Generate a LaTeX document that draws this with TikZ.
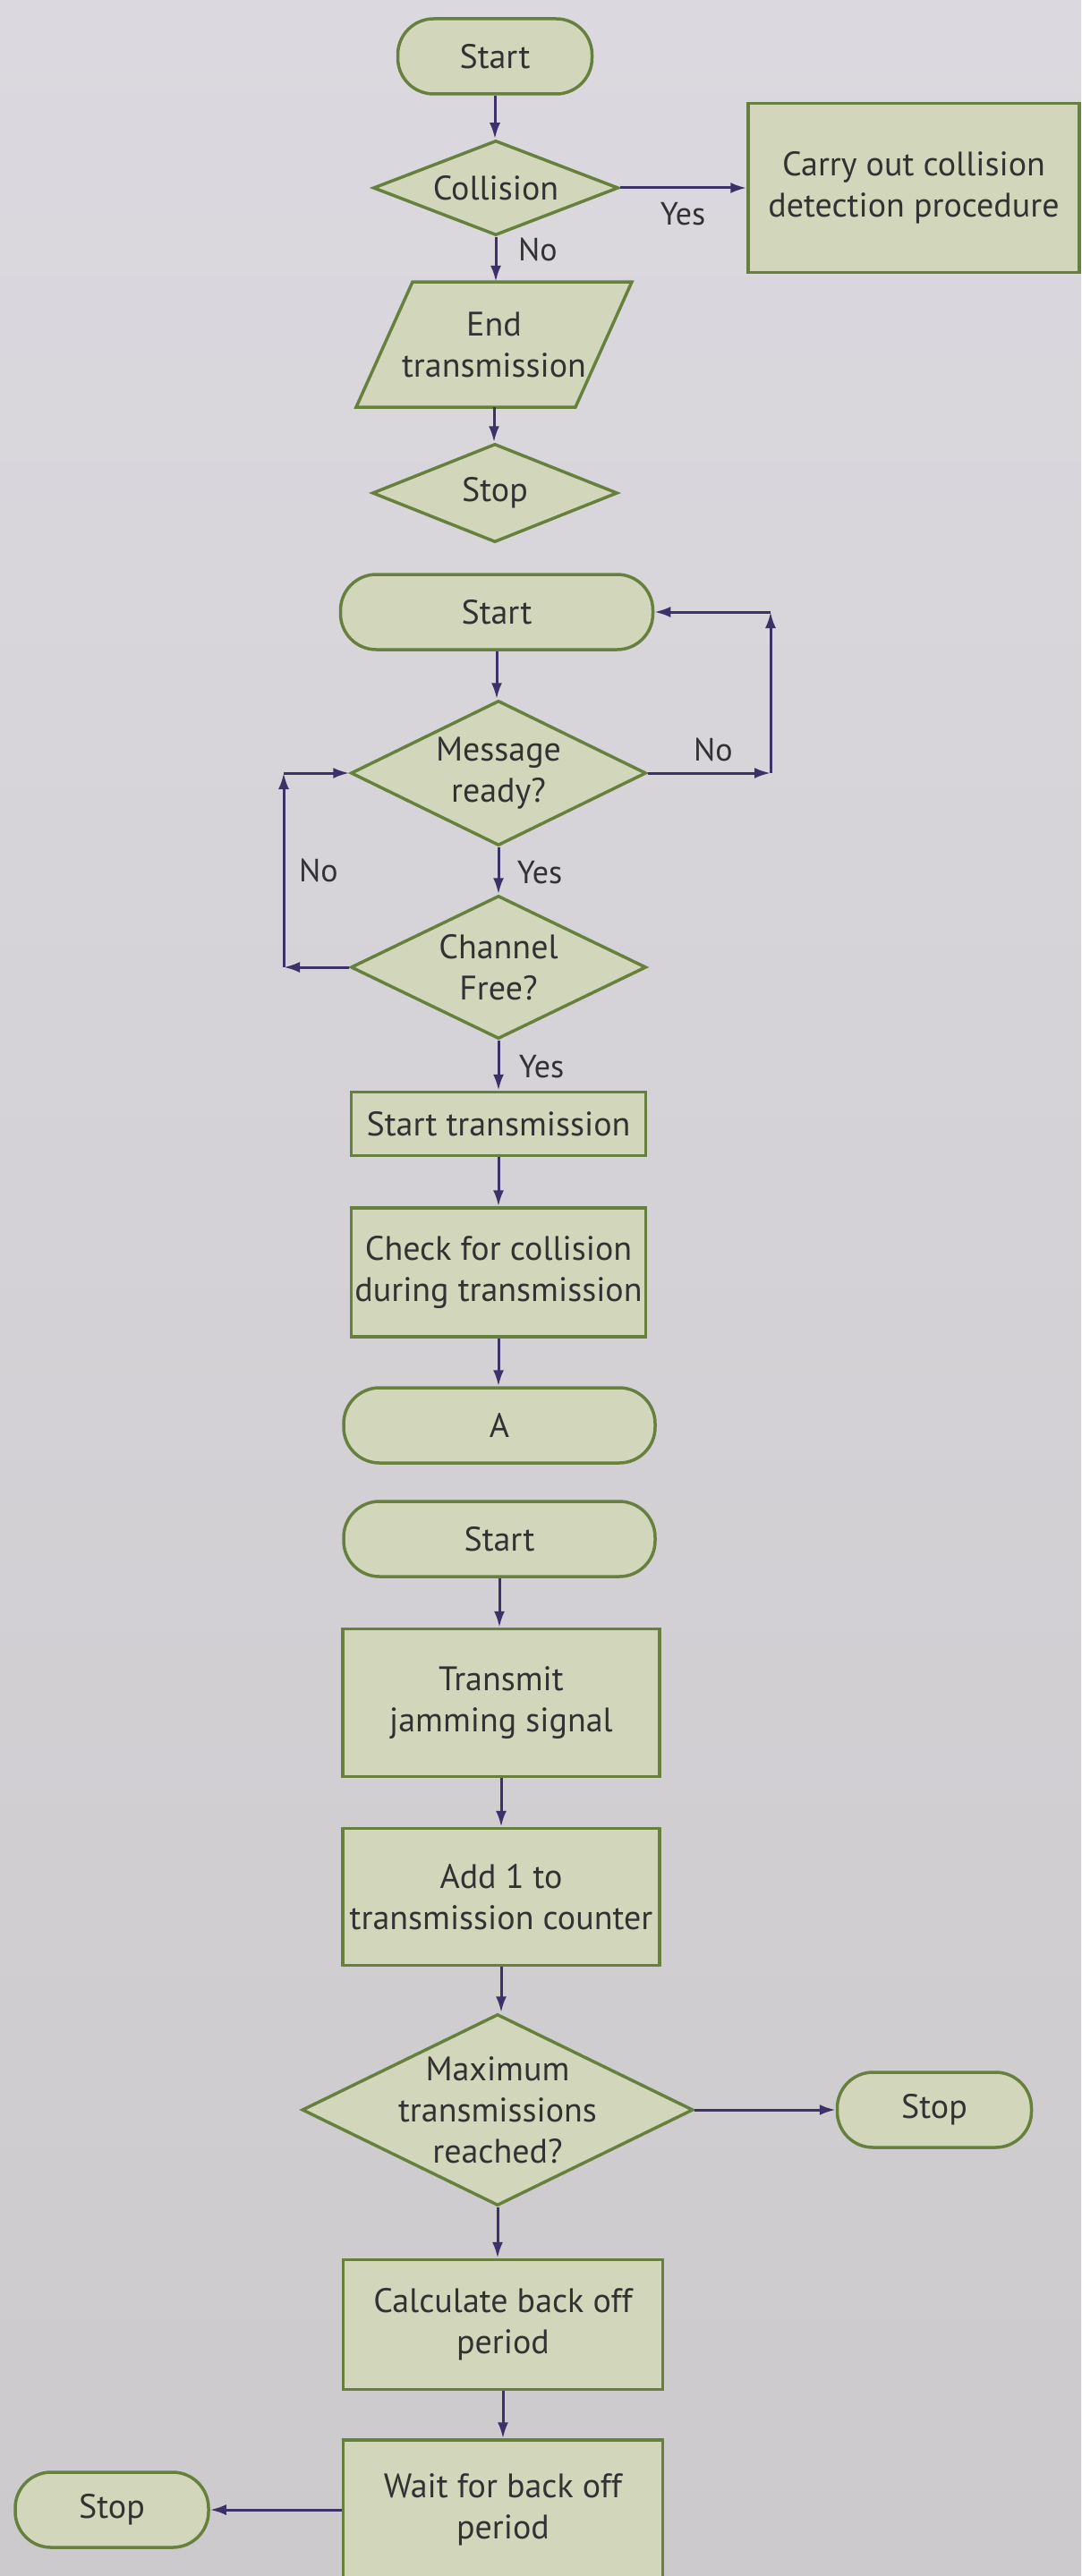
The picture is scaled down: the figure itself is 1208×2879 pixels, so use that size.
\documentclass[tikz,border=0pt]{standalone}
\usepackage{fontspec}
\setmainfont{PT Sans}
\usetikzlibrary{shapes.geometric,arrows.meta,calc}
\definecolor{paper}{RGB}{219,217,223}
\definecolor{paperlow}{RGB}{205,202,205}
\definecolor{boxfill}{RGB}{210,215,188}
\definecolor{boxline}{RGB}{104,128,62}
\definecolor{flow}{RGB}{58,50,104}
\definecolor{ink}{RGB}{50,50,50}

\begin{document}
\begin{tikzpicture}[x=1pt,y=-1pt,
  font=\fontsize{38}{46}\selectfont, text=ink,
  shapebase/.style={draw=boxline, line width=3.5pt, fill=boxfill, inner sep=0pt, align=center},
  procbox/.style={shapebase, rectangle},
  term/.style={shapebase, rectangle, rounded corners=40pt, minimum height=84pt},
  dia/.style={shapebase, diamond},
  flowline/.style={draw=flow, line width=3pt, -{Latex[length=18pt,width=12pt]}},
  lbl/.style={inner sep=0pt, font=\fontsize{36}{42}\selectfont},
  word/.style={inner sep=0pt, align=center}
]
% page
\useasboundingbox (0,0) rectangle (1208,2879);
\clip (0,0) rectangle (1208,2879);
\shade[top color=paper, bottom color=paperlow] (0,0) rectangle (1208,2879);

% ---------- first chart ----------
\node[term, minimum width=217pt] (s1) at (553,63) {Start};
\node[dia, minimum width=274pt, minimum height=106pt] (col) at (554,210) {};
\node[word] (colt) at (col) {Collision};
\node[procbox, minimum width=370pt, minimum height=189pt] (carry) at (1021,210) {Carry out collision\\detection procedure};

\coordinate (endc) at (552,385);
\draw[shapebase] ($(endc)+(-91,-70)$) -- ($(endc)+(154,-70)$) -- ($(endc)+(91,70)$) -- ($(endc)+(-154,70)$) -- cycle;
\node[word, minimum width=245pt, minimum height=140pt] (endtx) at (endc) {End\\transmission};

\node[dia, minimum width=274pt, minimum height=110pt] (stop1) at (553,551) {};
\node[word] (stop1t) at (stop1) {Stop};

\draw[flowline] (s1.south) -- (s1.south |- col.north);
\draw[flowline] (col.east) -- (carry.west);
\draw[flowline] (col.south) -- (col.south |- endtx.north);
\draw[flowline] (endtx.south) -- (endtx.south |- stop1.north);
\node[lbl] (yes1) at (763,239) {Yes};
\node[lbl] (no1) at (601,279) {No};

% ---------- second chart ----------
\node[term, minimum width=349pt] (s2) at (555,684) {Start};
\node[dia, minimum width=330pt, minimum height=162pt] (msg) at (557,864) {};
\node[word] (msgt) at (msg) {Message\\ready?};
\node[dia, minimum width=330pt, minimum height=160pt] (chan) at (557,1081) {};
\node[word] (chant) at (chan) {Channel\\Free?};
\node[procbox, minimum width=329pt, minimum height=71pt] (sttx) at (557,1256) {Start transmission};
\node[procbox, minimum width=329pt, minimum height=144pt] (chk) at (557,1422) {Check for collision\\during transmission};
\node[term, minimum width=348pt] (conA) at (558,1593) {A};

\coordinate (rloop) at (861,0);
\coordinate (lloop) at (317,0);

\draw[flowline] (s2.south) -- (s2.south |- msg.north);
\draw[flowline] (msg.south) -- (msg.south |- chan.north);
\draw[flowline] (chan.south) -- (chan.south |- sttx.north);
\draw[flowline] (sttx.south) -- (sttx.south |- chk.north);
\draw[flowline] (chk.south) -- (chk.south |- conA.north);

\draw[flowline] (msg.east) -- (msg.east -| rloop);
\draw[flowline] (msg.east -| rloop) -- (s2.east -| rloop);
\draw[flowline] (s2.east -| rloop) -- (s2.east);

\draw[flowline] (chan.west) -- (chan.west -| lloop);
\draw[flowline] (chan.west -| lloop) -- (msg.west -| lloop);
\draw[flowline] (msg.west -| lloop) -- (msg.west);

\node[lbl] (no2) at (797,838) {No};
\node[lbl] (yes2) at (603,975) {Yes};
\node[lbl] (no3) at (356,973) {No};
\node[lbl] (yes3) at (605,1192) {Yes};

% ---------- third chart ----------
\node[term, minimum width=348pt] (s3) at (558,1720) {Start};
\node[procbox, minimum width=354pt, minimum height=165pt] (jam) at (560,1903) {Transmit\\jamming signal};
\node[procbox, minimum width=354pt, minimum height=153pt] (add) at (560,2120) {Add 1 to\\transmission counter};
\node[dia, minimum width=437pt, minimum height=214pt] (max) at (556,2358) {};
\node[word] (maxt) at (max) {Maximum\\transmissions\\reached?};
\node[term, minimum width=217pt] (stopR) at (1044,2358) {Stop};
\node[procbox, minimum width=357pt, minimum height=145pt] (calc) at (562,2598) {Calculate back off\\period};
\node[procbox, minimum width=357pt, minimum height=156pt] (wait) at (562,2805) {Wait for back off\\period};
\node[term, minimum width=216pt] (stopL) at (125,2805) {Stop};

\draw[flowline] (s3.south) -- (s3.south |- jam.north);
\draw[flowline] (jam.south) -- (jam.south |- add.north);
\draw[flowline] (add.south) -- (add.south |- max.north);
\draw[flowline] (max.east) -- (stopR.west);
\draw[flowline] (max.south) -- (max.south |- calc.north);
\draw[flowline] (calc.south) -- (calc.south |- wait.north);
\draw[flowline] (wait.west) -- (stopL.east);
\end{tikzpicture}
\end{document}
